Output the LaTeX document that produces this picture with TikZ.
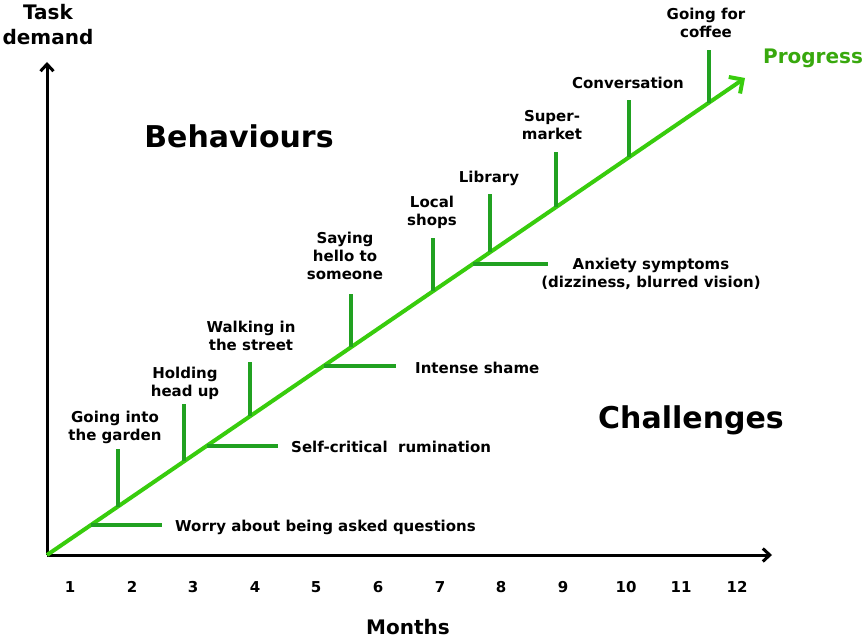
\documentclass[tikz,border=0pt]{standalone}
\usepackage{fontspec}
\setmainfont{DejaVu Sans}
\usetikzlibrary{arrows.meta}
\definecolor{qqccqq}{rgb}{0.22,0.80,0.05}
\definecolor{qqaaqq}{rgb}{0.13,0.63,0.13}
\definecolor{qqaauu}{rgb}{0.22,0.66,0.05}
\tikzset{
  lbl/.style={font=\bfseries\fontsize{15}{18}\selectfont,align=center,inner sep=0pt},
  big/.style={font=\bfseries\fontsize{30}{34}\selectfont,inner sep=0pt},
  axlbl/.style={font=\bfseries\fontsize{20}{25}\selectfont,align=center,inner sep=0pt},
  branch/.style={qqaaqq,line width=3.4pt},
}
\begin{document}
\begin{tikzpicture}[line cap=butt,line join=miter,x=1pt,y=-1pt]
\useasboundingbox (0,0) rectangle (866,639);
% axes
\coordinate (o) at (47,555);
\coordinate (ytop) at (47,62);
\coordinate (xend) at (772,555);
\draw[line width=3pt,-{Straight Barb[length=7pt,width=13pt,line width=3pt]}] (o) -- (ytop);
\draw[line width=3pt,-{Straight Barb[length=7pt,width=13pt,line width=3pt]}] (o) -- (xend);
\node[axlbl] (task) at (48,25) {Task\\demand};
\node[axlbl] (months) at (408,627) {Months};
% month numbers
\foreach \m/\xx in {1/70,2/132,3/193,4/255,5/316,6/378,7/440,8/501,9/563,10/626,11/681,12/737}
  \node[lbl] (m\m) at (\xx,587) {\m};
% progress line
\coordinate (ptip) at (745,78);
\draw[qqccqq,line width=4pt,-{Straight Barb[length=10pt,width=20pt,line width=4pt]}] (o) -- (ptip);
\node[axlbl,text=qqaauu] (progress) at (813,58) {Progress};
\node[big] (behav) at (239,136) {Behaviours};
\node[big] (chall) at (691,420) {Challenges};
% behaviours (above the line)
\coordinate (b1) at (118,506.5); \coordinate (b1t) at (118,449);
\coordinate (b2) at (184,461); \coordinate (b2t) at (184,404);
\coordinate (b3) at (250,416); \coordinate (b3t) at (250,362);
\coordinate (b4) at (351,347); \coordinate (b4t) at (351,294);
\coordinate (b5) at (433,291); \coordinate (b5t) at (433,238);
\coordinate (b6) at (490,252); \coordinate (b6t) at (490,194);
\coordinate (b7) at (556,207); \coordinate (b7t) at (556,152);
\coordinate (b8) at (629,157); \coordinate (b8t) at (629,100);
\coordinate (b9) at (709,103); \coordinate (b9t) at (709,50);
\foreach \i in {1,...,9}
  \draw[branch] (b\i) -- (b\i t);
\node[lbl] (garden) at (115,427) {Going into\\the garden};
\node[lbl] (head) at (185,383) {Holding\\head up};
\node[lbl] (street) at (251,336) {Walking in\\the street};
\node[lbl] (hello) at (345,256) {Saying\\hello to\\someone};
\node[lbl] (shops) at (432,212) {Local\\shops};
\node[lbl] (library) at (489,178) {Library};
\node[lbl] (market) at (552,125) {Super-\\market};
\node[lbl] (conv) at (628,83) {Conversation};
\node[lbl] (coffee) at (706,23) {Going for\\coffee};
% challenges (right of the line)
\coordinate (c1) at (91,525); \coordinate (c1e) at (162,525);
\coordinate (c2) at (207,446); \coordinate (c2e) at (278,446);
\coordinate (c3) at (324,366); \coordinate (c3e) at (396,366);
\coordinate (c4) at (473,264); \coordinate (c4e) at (548,264);
\foreach \i in {1,...,4}
  \draw[branch] (c\i) -- (c\i e);
\node[lbl,anchor=west] (worry) at (175,527) {Worry about being asked questions};
\node[lbl,anchor=west] (rumin) at (291,447) {Self-critical~ rumination};
\node[lbl,anchor=west] (shame) at (415,368) {Intense shame};
\node[lbl] (anx) at (651,274) {Anxiety symptoms\\(dizziness, blurred vision)};
\end{tikzpicture}
\end{document}
